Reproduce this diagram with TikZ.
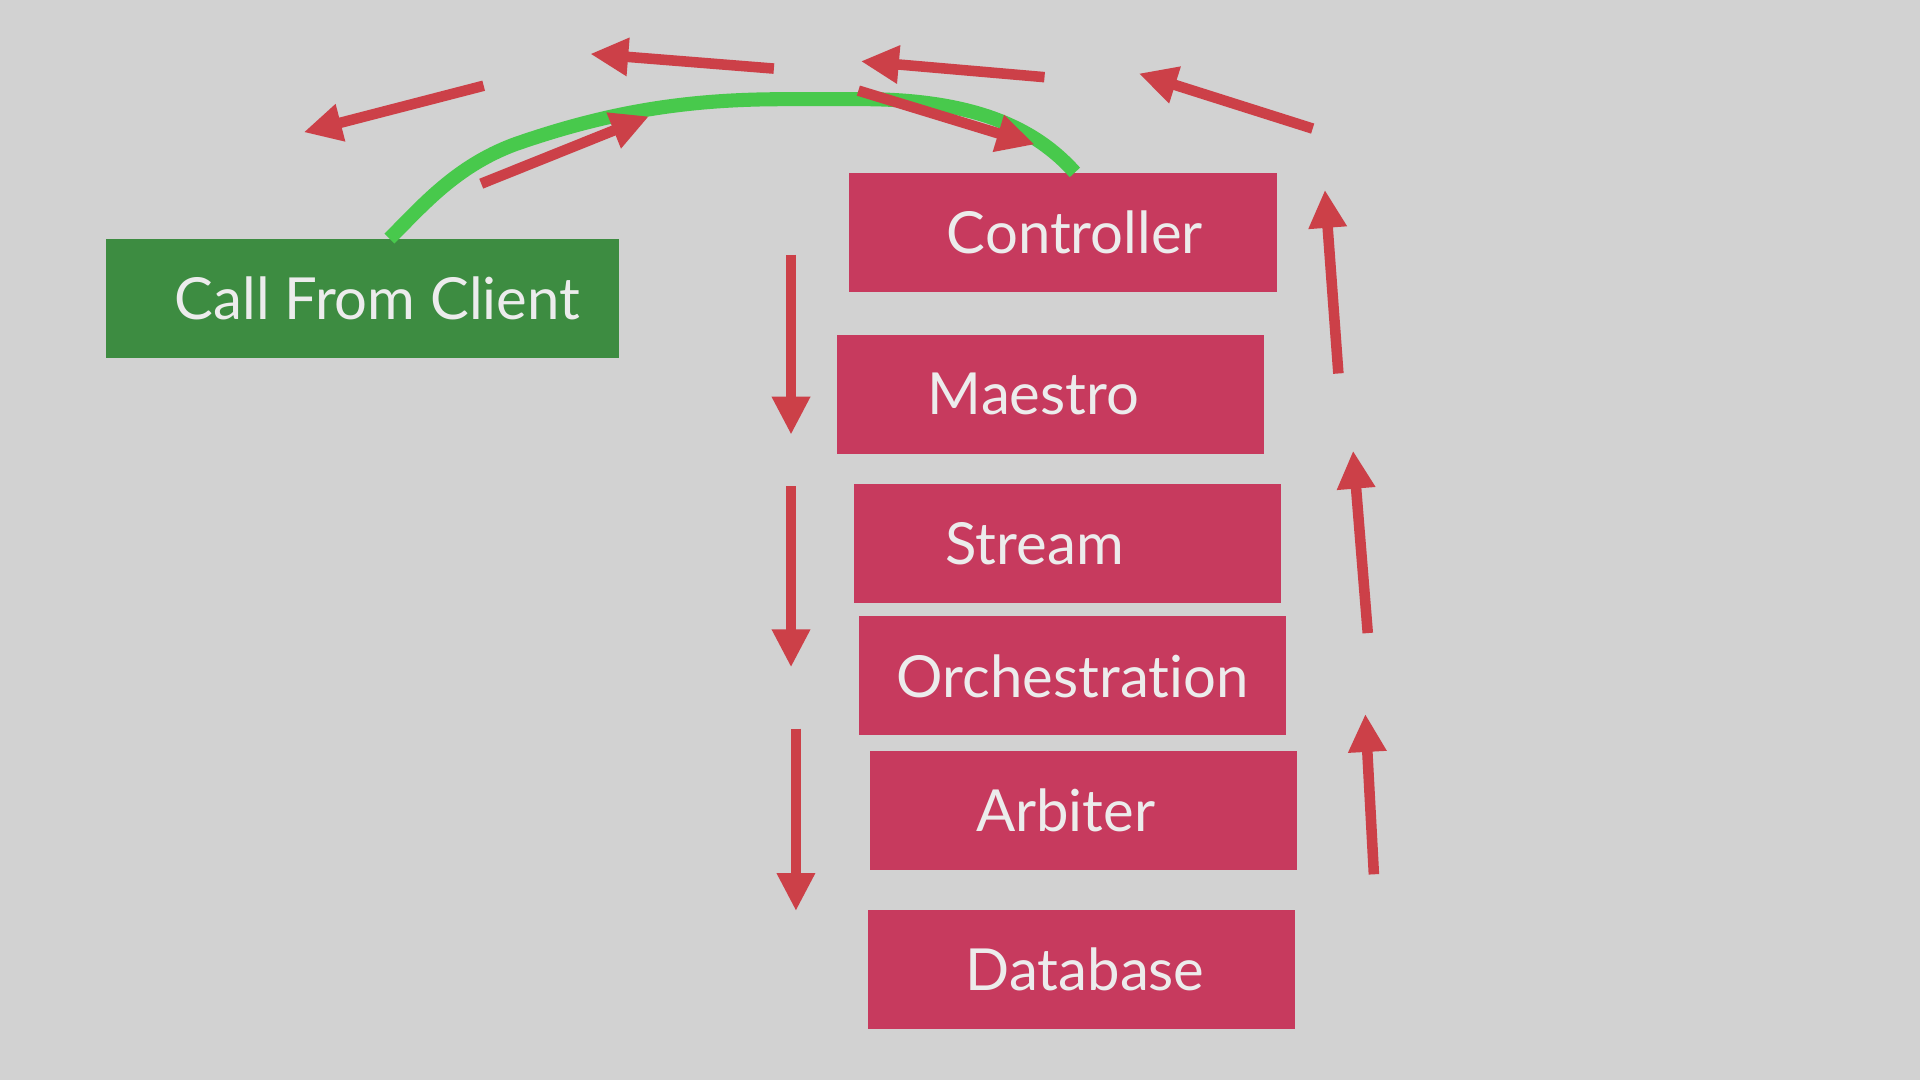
\documentclass[tikz,border=0pt]{standalone}
\usepackage{fontspec}
\setmainfont{Lato}[Ligatures=CommonOff]
\usepackage{xcolor}
\usetikzlibrary{arrows.meta, positioning}

\definecolor{bgGrey}{RGB}{210,210,210}
\definecolor{layerRed}{RGB}{199,58,94}
\definecolor{clientGreen}{RGB}{61,140,65}
\definecolor{arrowRed}{RGB}{204,64,72}
\definecolor{pathGreen}{RGB}{72,201,76}
\definecolor{labelGrey}{RGB}{236,236,236}

\begin{document}
\begin{tikzpicture}[x=0.012245cm, y=-0.012245cm,
    layer/.style={rectangle, fill=layerRed, minimum width=4.27cm, minimum height=1.19cm},
    tag/.style={text=labelGrey, font=\fontsize{16.5}{18}\selectfont},
    flow/.style={-{Triangle[length=0.38cm, width=0.36cm]}, line width=3pt, arrowRed}]
            \fill[bgGrey] (0,0) rectangle (1568,882);
            \useasboundingbox (0,0) rectangle (1568,882);

            \node[rectangle, fill=clientGreen, minimum width=5.12cm, minimum height=1.19cm, label={[tag, xshift=0.15cm]center:Call From Client}] (client) at (296,244) {};
            \node[layer, label={[tag, xshift=0.12cm]center:Controller}] (controller) at (868,190) {};
            \node[layer, label={[tag, xshift=-0.17cm]center:Maestro}] (maestro) at (858,322) {};
            \node[layer, label={[tag, xshift=-0.33cm]center:Stream}] (stream) at (872,444) {};
            \node[layer, label={[tag]center:Orchestration}] (orchestration) at (876,552) {};
            \node[layer, label={[tag, xshift=-0.18cm]center:Arbiter}] (arbiter) at (885,662) {};
            \node[layer, label={[tag, xshift=0.04cm]center:Database}] (database) at (883,792) {};

            % path of the call
            \draw[pathGreen, line width=4pt] ([xshift=0.27cm]client.north) .. controls (345,168) and (372,136) .. (420,118)
                .. controls (500,90) and (565,81) .. (640,81) -- (710,81)
                .. controls (795,82) and (845,104) .. ([xshift=0.12cm]controller.north);

            % arrows round the top
            \draw[flow] (393,150) -- (530,95);
            \draw[flow] (701,74) -- (845,118);
            \draw[flow] (1072,105) -- (930,60);
            \draw[flow] (853,63) -- (703,50);
            \draw[flow] (632,56) -- (482,44);
            \draw[flow] (395,70) -- (248,108);

            % down the stack
            \draw[flow] (646,208) -- (646,355);
            \draw[flow] (646,397) -- (646,545);
            \draw[flow] (650,595) -- (650,744);

            % back up the stack
            \draw[flow] (1093,305) -- (1082,155);
            \draw[flow] (1117,517) -- (1105,368);
            \draw[flow] (1122,714) -- (1115,583);
        \end{tikzpicture}
\end{document}
